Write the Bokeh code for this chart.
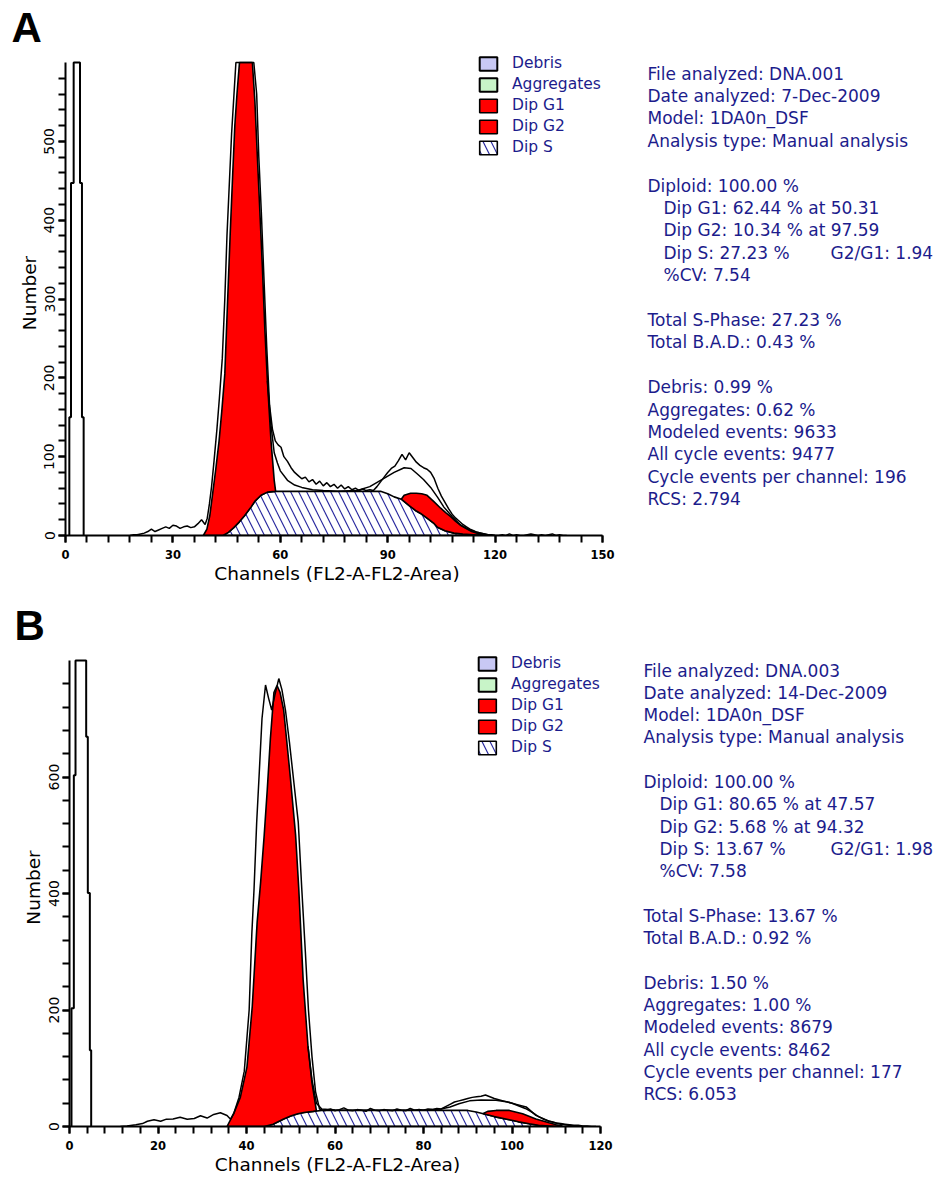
from bokeh.plotting import figure
from bokeh.layouts import column, row
from bokeh.models import Range1d, FixedTicker, Legend, LegendItem
from bokeh.core.properties import value
from bokeh.embed import file_html
from bokeh.resources import INLINE

NAVY = "#1c1c8c"
RED = "#ff0000"
HATCH = "#2b2ba0"

LEGEND_LABELS = ["Debris", "Aggregates", "Dip G1", "Dip G2", "Dip S"]
X_LABEL = "Channels (FL2-A-FL2-Area)"
Y_LABEL = "Number"

# ---------------- Panel A ----------------
A_x_ticks = [0, 30, 60, 90, 120, 150]
A_y_ticks = [0, 100, 200, 300, 400, 500]
A_debris_edges = [1.07, 1.53, 2.28, 4.05, 4.6, 5.07]
A_debris_heights = [150, 447, 600, 447, 150]
A_data_x = [18, 19, 20, 21, 22, 23, 24, 25, 26, 27, 28, 29, 30, 31, 32, 33, 34, 35, 36, 37, 38, 39,
            39.6, 40.2, 40.8, 41.5, 42.3, 43.0, 43.8, 44.5, 45.1, 45.8, 46.4, 47.0, 47.6, 48.5, 50,
            51.5, 52.6, 53.4, 54.0, 54.7, 55.4, 56.2, 57.0, 57.8, 58.6, 59.4, 60.2, 61, 62, 63, 64,
            65, 66, 67, 68, 69, 70, 71, 72, 73, 74, 75, 76, 77, 78, 79, 80, 81, 82, 83, 84, 85, 86,
            87, 88, 89, 90, 91, 92, 93, 94, 95, 96, 97, 98, 99, 100, 101, 102, 103, 104, 105, 106,
            107, 108, 109, 110, 111, 112, 113, 114, 115, 116, 117, 118, 119, 120, 121, 122, 123,
            124, 125, 126, 127, 128, 129, 130, 131, 132, 133, 134, 135, 136, 137, 138, 139, 140]
A_data_y = [0, 1, 1, 2, 3, 5, 8, 5, 7, 9, 11, 9, 13, 12, 9, 11, 12, 10, 11, 15, 20, 14,
            22, 40, 62, 95, 135, 175, 225, 300, 380, 450, 510, 555, 600, 600, 600,
            600, 600, 560, 480, 410, 330, 240, 165, 135, 120, 115, 112, 100, 94, 86, 80,
            76, 72, 74, 68, 71, 65, 69, 63, 67, 62, 65, 60, 64, 59, 62, 58, 60, 57, 59, 57, 58, 57,
            62, 68, 74, 80, 85, 88, 95, 103, 96, 105, 99, 93, 89, 86, 84, 80, 72, 60, 50, 42,
            34, 27, 22, 18, 14, 11, 8, 6, 4, 3, 2, 1, 1, 0, 0, 1, 0,
            2, 0, 1, 0, 0, 1, 2, 1, 0, 1, 0, 1, 2, 0, 1, 0, 0]
A_model_x = [56.4, 57.4, 58.3, 59.2, 60, 62, 64, 66, 69, 72, 76, 81.5, 85, 88, 91.8, 94.6, 96.5,
             98.3, 100, 102, 104, 105.7, 108, 110.4, 113, 115, 118, 120]
A_model_y = [196, 140, 105, 92, 82, 70, 64, 61, 58, 57, 56, 57, 62, 70, 80, 86, 85,
             78, 71, 61, 48, 36, 24, 13, 7, 4, 1, 0]
A_S_x = [44, 45.5, 47, 48.5, 50, 51.8, 53, 54.6, 56.4, 58.5, 88, 90, 91.8, 93.8, 96, 98, 99.2,
         101, 103, 103.9, 106, 108.5, 111, 114, 117]
A_S_y = [0, 4, 10, 17, 25, 36, 44, 51, 55, 56, 56, 53, 49, 46, 38, 31, 28,
         22, 15, 10.5, 6, 3, 2, 1, 0]
A_G1_x = [38.5, 39.5, 40.3, 41.1, 42.0, 42.9, 43.7, 44.5, 45.3, 46.0, 46.7, 47.3, 47.9, 48.6,
          52.2, 52.9, 53.6, 54.3, 55.0, 55.7, 56.4, 57.4, 58.3, 58.7]
A_G1_y = [0, 8, 25, 53, 85, 120, 160, 205, 300, 382, 458, 520, 560, 600,
          600, 551, 480, 410, 340, 260, 196, 120, 70, 56]
A_G2_x = [93.8, 94.6, 96.4, 98, 99.5, 101, 102.9, 104.8, 106.2, 107.6, 109, 110.4, 111.8,
          113.2, 115, 117]
A_G2_y = [46, 51, 53.5, 53.5, 53, 51, 43, 34.6, 29, 24, 18, 13, 9, 5.5, 3, 0.5]
A_stats = ["File analyzed: DNA.001", "Date analyzed: 7-Dec-2009", "Model: 1DA0n_DSF",
           "Analysis type: Manual analysis", "",
           "Diploid: 100.00 %", "  Dip G1: 62.44 % at 50.31", "  Dip G2: 10.34 % at 97.59",
           "  Dip S: 27.23 %   G2/G1: 1.94", "  %CV: 7.54", "",
           "Total S-Phase: 27.23 %", "Total B.A.D.: 0.43 %", "",
           "Debris: 0.99 %", "Aggregates: 0.62 %", "Modeled events: 9633",
           "All cycle events: 9477", "Cycle events per channel: 196", "RCS: 2.794"]

# ---------------- Panel B ----------------
B_x_ticks = [0, 20, 40, 60, 80, 100, 120]
B_y_ticks = [0, 200, 400, 600]
B_debris_edges = [0.45, 0.98, 1.36, 3.77, 4.14, 4.6, 4.9]
B_debris_heights = [203, 603, 800, 669, 401, 131]
B_data_x = [11.5, 13, 15, 16.5, 17.6, 19.1, 20.6, 21.9, 23.4, 25, 26.6, 28.2, 29.6, 31.1, 32.6,
            34.1, 35.6, 36.4, 37.1, 38.3, 39.5, 40.6, 41.2, 41.7, 42.3, 42.9, 43.5, 44.3, 45.0,
            45.7, 46.4, 47.3, 48.0, 48.8, 49.7, 50.7, 51.7, 52.5, 53.3, 54.0, 54.8, 55.6, 56.5,
            57.5, 58, 59, 60, 61, 62, 63, 64, 65, 66, 67, 68, 69, 70, 71, 72, 73, 74, 75, 76, 77,
            78, 79, 80, 81, 82, 83, 84, 85, 86, 87, 88, 89, 90, 91, 92, 93, 94, 95, 96, 97, 98,
            99, 100, 101, 102, 103, 104, 105, 106, 107, 108, 109, 110, 111, 112, 113, 114, 115,
            116, 117, 118, 119]
B_data_y = [0, 1, 3, 5, 9, 11.5, 9, 12.6, 13, 16, 12.6, 13.8, 18.4, 14.5, 20.7,
            23.6, 19, 12.6, 22, 50, 95, 200, 330, 407, 522, 610, 700, 758, 735,
            715, 740, 769, 750, 715, 660, 591, 522, 407, 300, 200, 120, 60, 30,
            27, 28, 30, 27, 29, 32, 28, 27, 29, 28, 26, 31, 28, 27, 29, 28, 27, 30, 28, 27, 31,
            28, 29, 28, 30, 29, 31, 30, 34, 38, 42, 44, 46, 48, 50, 51, 52, 54, 51, 48, 46, 44,
            42, 40, 37, 34, 31, 27, 22, 17, 13, 10, 8, 6, 5, 4, 3, 2, 2,
            1, 1, 0, 0]
B_model_x = [53.9, 54.8, 55.8, 57, 60, 70, 80, 84, 86, 88, 90.4, 93, 96.4, 99, 101, 103.2,
             105.4, 108.4, 111, 115]
B_model_y = [137, 80, 40, 30, 28.5, 28, 28.5, 30, 33.6, 39, 44, 45.5, 45, 42, 38, 33.6,
             19, 9, 4, 0]
B_S_x = [44, 46, 48.4, 50, 51.6, 53, 55.1, 57, 90, 91.9, 93.5, 96, 99.4, 101.5, 103.9, 106, 110]
B_S_y = [0, 4, 13, 18, 22, 24, 26, 27.6, 27.6, 25, 22, 17, 11.5, 8, 4.6, 2, 0]
B_G1_x = [35.6, 37.1, 38.6, 40.1, 41.3, 42.4, 43.2, 44.0, 44.7, 45.4, 46.2, 46.9, 47.6, 48.4,
          49.9, 51.1, 51.8, 52.8, 53.9, 54.8, 55.8]
B_G1_y = [0, 22, 50, 102, 206, 350, 420, 500, 579, 666, 745, 757, 745, 715,
          600, 500, 410, 252, 137, 75, 27]
B_G2_x = [93.5, 94.5, 96.4, 99.4, 102.4, 105.4, 108.4, 110, 111.4]
B_G2_y = [22.5, 26, 27.6, 27.6, 21.8, 13, 6.3, 3, 1]
B_stats = ["File analyzed: DNA.003", "Date analyzed: 14-Dec-2009", "Model: 1DA0n_DSF",
           "Analysis type: Manual analysis", "",
           "Diploid: 100.00 %", "  Dip G1: 80.65 % at 47.57", "  Dip G2: 5.68 % at 94.32",
           "  Dip S: 13.67 %   G2/G1: 1.98", "  %CV: 7.58", "",
           "Total S-Phase: 13.67 %", "Total B.A.D.: 0.92 %", "",
           "Debris: 1.50 %", "Aggregates: 1.00 %", "Modeled events: 8679",
           "All cycle events: 8462", "Cycle events per channel: 177", "RCS: 6.053"]

PAGE_W = 944
SPLIT_X = 618  # page x where the text column starts


def outline_from_steps(edges, heights):
    xs, ys = [edges[0]], [0]
    for i, h in enumerate(heights):
        xs += [edges[i], edges[i + 1]]
        ys += [h, h]
    xs.append(edges[-1])
    ys.append(0)
    return xs, ys


def band(top_x, top_y, base_x, base_y):
    lo, hi = top_x[0], top_x[-1]
    pts = [(x, y) for x, y in zip(base_x, base_y) if lo <= x <= hi]
    pts.reverse()
    return list(top_x) + [x for x, _ in pts], list(top_y) + [y for _, y in pts]


def make_hist(letter, letter_x, cal, frame, fig_box, xbound, ybound,
              xticks, xstep, yticks, ystep,
              deb_e, deb_h, data_x, data_y, model_x, model_y,
              s_x, s_y, g1_x, g1_y, g2_x, g2_y, legend_box):
    # cal: page pixel of x=0, x=xbound, y=0, y=ybound
    cx0, cx1, cy0, cy1 = cal
    fl, fr, ft, fb = frame
    top, bottom = fig_box
    xmax = xbound * (fr - cx0) / (cx1 - cx0)
    ymax = ybound * (cy0 - ft) / (cy0 - cy1)
    p = figure(width=SPLIT_X, height=bottom - top,
               x_range=Range1d(0, xmax), y_range=Range1d(0, ymax),
               output_backend="svg", toolbar_location=None,
               min_border_left=fl, min_border_right=SPLIT_X - fr,
               min_border_top=ft - top, min_border_bottom=bottom - fb)
    p.outline_line_color = None
    p.grid.visible = False
    p.background_fill_color = "white"
    p.border_fill_color = "white"

    # panel letter as the figure title
    p.title.text = letter
    p.title.text_font = "Liberation Sans"
    p.title.text_font_style = "bold"
    p.title.text_font_size = "42px"
    p.title.text_color = "black"
    p.title.align = "left"
    p.title.offset = letter_x - fl
    p.title.standoff = 0

    for ax in (p.xaxis[0], p.yaxis[0]):
        ax.axis_line_width = 2
        ax.axis_line_color = "black"
        ax.major_tick_line_width = 2
        ax.minor_tick_line_width = 2
        ax.major_tick_out = 7
        ax.major_tick_in = 0
        ax.minor_tick_out = 7
        ax.minor_tick_in = 0
        ax.major_label_text_color = "black"
        ax.axis_label_text_font = "DejaVu Sans"
        ax.axis_label_text_font_style = "normal"
        ax.axis_label_text_font_size = "18.5px"
        ax.axis_label_text_color = "black"
    p.xaxis.bounds = (0, xbound)
    p.yaxis.bounds = (0, ybound)
    p.xaxis.ticker = FixedTicker(ticks=xticks, minor_ticks=list(range(0, xbound + 1, xstep)))
    p.yaxis.ticker = FixedTicker(ticks=yticks, minor_ticks=list(range(0, ybound, ystep)))
    p.xaxis.axis_label = X_LABEL
    p.yaxis.axis_label = Y_LABEL
    p.xaxis.major_label_text_font = "DejaVu Sans"
    p.xaxis.major_label_text_font_style = "bold"
    p.xaxis.major_label_text_font_size = "11.5px"
    p.xaxis.major_label_standoff = 7
    p.xaxis.axis_label_standoff = 1
    p.yaxis.major_label_orientation = "vertical"
    p.yaxis.major_label_text_font = "DejaVu Sans"
    p.yaxis.major_label_text_font_size = "14px"
    p.yaxis.major_label_standoff = 4
    p.yaxis.axis_label_standoff = 2

    # Debris / Aggregates components are not visible in the plotted range (legend only)
    off = [-30, -20, -20]
    r_deb = p.patch(off, [-30, -30, -20], fill_color="#c8c8f4", line_color="black", line_width=2)
    r_agg = p.patch(off, [-30, -30, -20], fill_color="#c8f4c8", line_color="black", line_width=2)
    r_s = p.patch(s_x, s_y, fill_color="white", hatch_pattern="\\", hatch_color=HATCH,
                  hatch_scale=16, hatch_weight=1.2, line_color="black", line_width=1.6)
    bx, by = band(g1_x, g1_y, s_x, s_y)
    r_g1 = p.patch(bx, by, fill_color=RED, line_color="black", line_width=1.6)
    bx2, by2 = band(g2_x, g2_y, s_x, s_y)
    r_g2 = p.patch(bx2, by2, fill_color=RED, line_color="black", line_width=1.6)
    p.line(model_x, model_y, color="black", line_width=1.5)
    p.line(data_x, data_y, color="black", line_width=1.5)
    dx, dy = outline_from_steps(deb_e, deb_h)
    p.line(dx, dy, color="black", line_width=2)

    lx, lbottom = legend_box
    legend = Legend(
        items=[LegendItem(label=lbl, renderers=[r]) for lbl, r in
               zip(LEGEND_LABELS, [r_deb, r_agg, r_g1, r_g2, r_s])],
        location=(lx - fl, fb - lbottom), orientation="vertical",
        glyph_width=22, glyph_height=17, label_standoff=13, spacing=3,
        padding=0, margin=0, border_line_color=None, background_fill_alpha=0,
        label_text_font="DejaVu Sans", label_text_font_size="15.5px",
        label_text_color=NAVY, label_height=17)
    p.add_layout(legend)
    return p


def make_text(stats, fig_box, frame_box, tgeom):
    """Text column; its frame lines up with the histogram frame, data units = page pixels."""
    top, bottom = fig_box
    ft, fb = frame_box
    x0, xind, xg, y0, dyl = tgeom
    p = figure(width=PAGE_W - SPLIT_X, height=bottom - top,
               x_range=Range1d(SPLIT_X, PAGE_W), y_range=Range1d(fb, ft),
               output_backend="svg", toolbar_location=None, x_axis_type=None, y_axis_type=None,
               min_border_left=0, min_border_right=0,
               min_border_top=ft - top, min_border_bottom=bottom - fb)
    p.outline_line_color = None
    p.background_fill_color = "white"
    p.border_fill_color = "white"
    xs, ys, ts = [], [], []
    for i, line in enumerate(stats):
        if not line:
            continue
        indent = line.startswith("  ")
        parts = line.strip().split("   ")
        y = y0 + i * dyl
        for part, xx in zip(parts, [xind if indent else x0, xg]):
            xs.append(xx)
            ys.append(y)
            ts.append(part)
    p.text(x=xs, y=ys, text=ts, text_font=value("DejaVu Sans"), text_font_size=value("17px"),
           text_color=NAVY, text_baseline="middle", text_align="left")
    return p


# Panel A: page y 0..586
histA = make_hist("A", 11, (65, 602, 535, 62), (65, 608, 50, 535), (0, 586), 150, 600,
                  A_x_ticks, 6, A_y_ticks, 20,
                  A_debris_edges, A_debris_heights, A_data_x, A_data_y, A_model_x, A_model_y,
                  A_S_x, A_S_y, A_G1_x, A_G1_y, A_G2_x, A_G2_y, (477, 156))
textA = make_text(A_stats, (0, 586), (50, 535), (647, 663, 830, 73, 22.4))
panelA = row(histA, textA)

# Panel B: page y 586..1196
histB = make_hist("B", 14, (69, 600, 1126, 660), (69, 605, 648, 1126), (586, 1196), 120, 800,
                  B_x_ticks, 4, B_y_ticks, 40,
                  B_debris_edges, B_debris_heights, B_data_x, B_data_y, B_model_x, B_model_y,
                  B_S_x, B_S_y, B_G1_x, B_G1_y, B_G2_x, B_G2_y, (476, 756))
textB = make_text(B_stats, (586, 1196), (648, 1126), (643, 659, 830, 670, 22.3))
panelB = row(histB, textB)

layout = column(panelA, panelB)
open("out.html", "w").write(file_html(layout, INLINE, title="Cell cycle histograms"))
